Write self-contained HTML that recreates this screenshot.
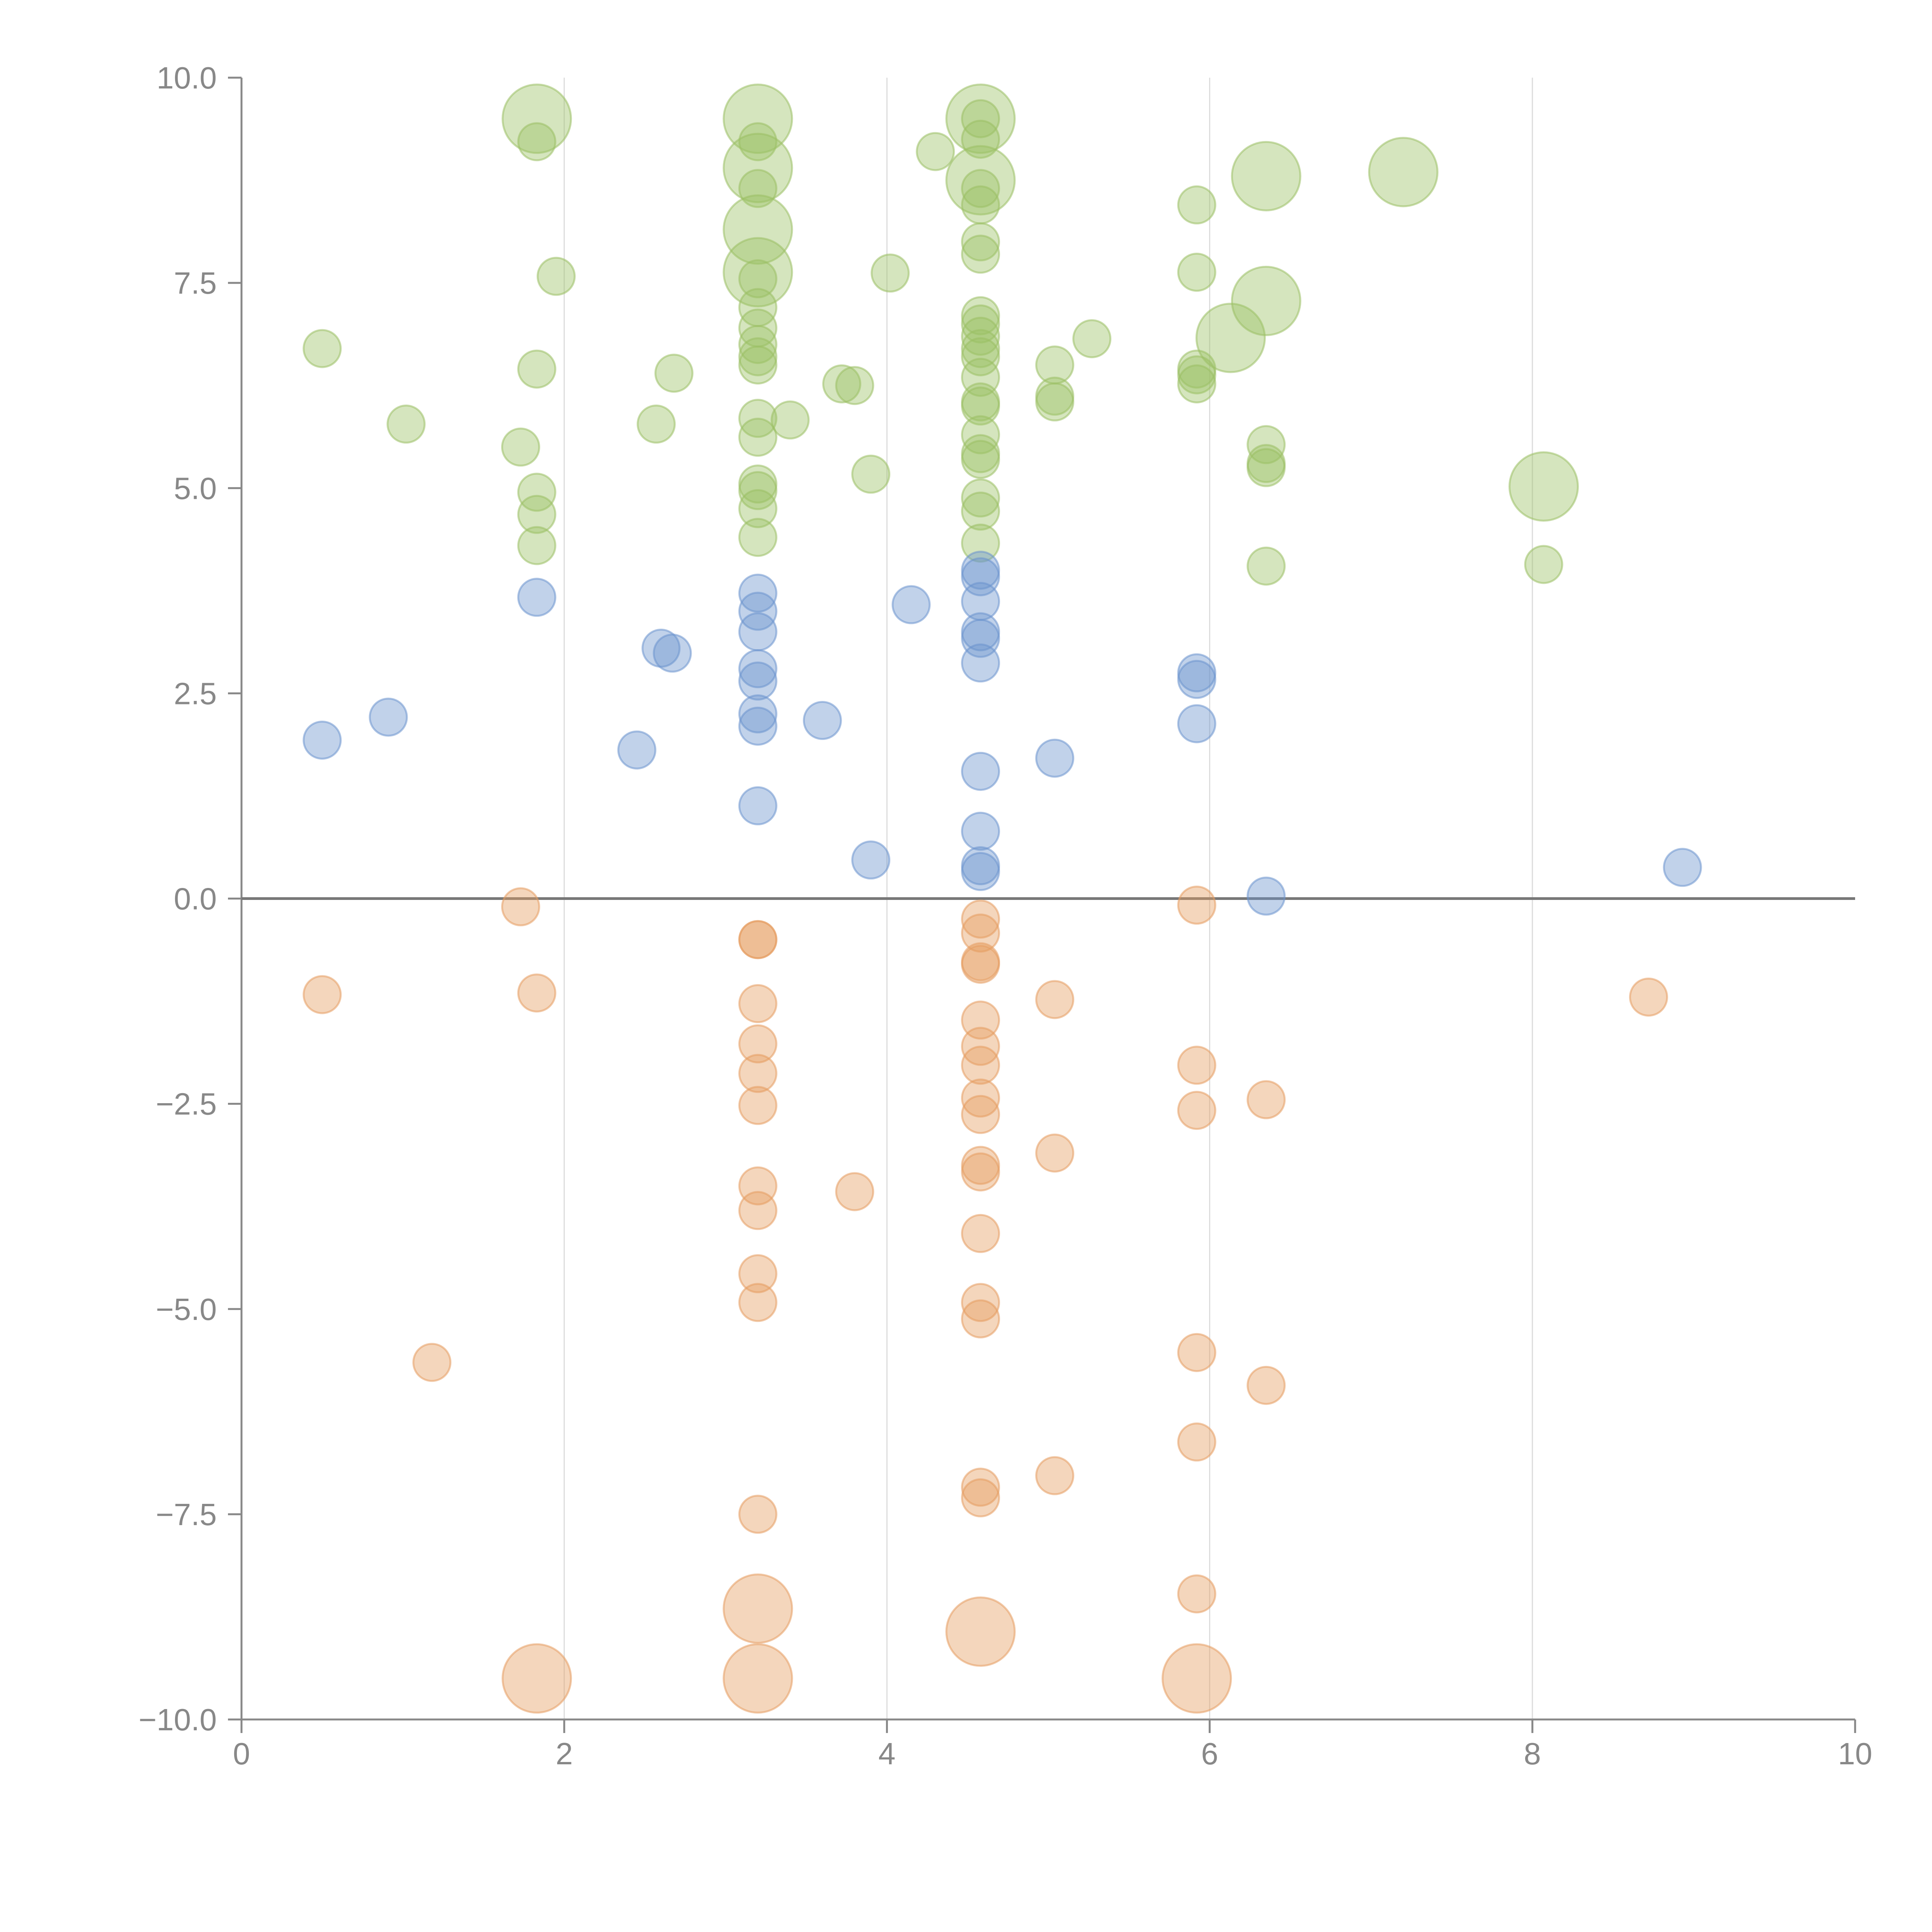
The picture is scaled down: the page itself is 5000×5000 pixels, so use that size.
<!DOCTYPE html>
<html><head><meta charset="utf-8"><style>
html,body{margin:0;padding:0;background:#fff;}
svg{display:block;font-family:"Liberation Sans",Arial,sans-serif;}
</style></head>
<body>
<svg id="chart" width="5000" height="5000" viewBox="0 0 5000 5000" xmlns="http://www.w3.org/2000/svg">
<g id="grid"></g>
<g id="axes"></g>
<g id="marks"></g>
</svg>
<script>
const xTicks=[0,2,4,6,8,10];
const xTickLabels=["0","2","4","6","8","10"];
const yTicks=[10,7.5,5,2.5,0,-2.5,-5,-7.5,-10];
const yTickLabels=["10.0","7.5","5.0","2.5","0.0","\u22122.5","\u22125.0","\u22127.5","\u221210.0"];

const greenX=[1.83,1.83,3.2,3.2,3.2,3.2,3.2,3.2,3.2,3.2,3.2,3.2,3.2,3.2,3.2,3.2,3.2,3.2,3.2,3.2,
4.58,4.58,4.58,4.58,4.58,4.58,4.58,4.58,4.58,4.58,4.58,4.58,4.58,4.58,4.58,4.58,4.58,4.58,4.58,4.58,4.58,4.58,
0.5,1.02,1.73,1.83,1.83,1.83,1.83,1.95,2.57,2.68,3.4,3.72,3.8,3.9,4.02,4.3,5.04,5.04,5.04,5.27,5.92,5.92,5.92,5.92,5.92,6.13,6.35,6.35,6.35,6.35,6.35,6.35,7.2,8.07,8.07];
const greenY=[9.5,9.22,9.5,9.22,8.9,8.65,8.15,7.63,7.55,7.2,6.95,6.75,6.6,6.5,5.85,5.62,5.05,4.97,4.75,4.4,
9.5,9.5,9.25,8.75,8.65,8.45,8.0,7.85,7.1,7.0,6.85,6.7,6.6,6.35,6.05,6.0,5.65,5.42,5.35,4.88,4.72,4.33,
6.7,5.78,5.5,6.45,4.95,4.68,4.3,7.58,5.78,6.4,5.83,6.27,6.25,5.17,7.62,9.1,6.5,6.12,6.05,6.82,8.45,7.63,6.45,6.38,6.27,6.83,8.8,7.28,5.53,5.3,5.25,4.05,8.85,5.02,4.07];
const greenSize=[3.4,1,3.4,1,3.4,1,3.4,3.4,1,1,1,1,1,1,1,1,1,1,1,1,
3.4,1,1,3.4,1,1,1,1,1,1,1,1,1,1,1,1,1,1,1,1,1,1,
1,1,1,1,1,1,1,1,1,1,1,1,1,1,1,1,1,1,1,1,1,1,1,1,1,3.4,3.4,3.4,1,1,1,1,3.4,3.4,1];

const blueX=[0.5,0.91,1.83,2.45,2.6,2.67,3.2,3.2,3.2,3.2,3.2,3.2,3.2,3.2,3.6,3.9,4.15,4.58,4.58,4.58,4.58,4.58,4.58,4.58,4.58,4.58,4.58,5.04,5.92,5.92,5.92,6.35,8.93];
const blueY=[1.93,2.21,3.67,1.81,3.05,2.99,3.72,3.5,3.25,2.8,2.65,2.25,2.1,1.13,2.17,0.47,3.58,4.0,3.92,3.62,3.25,3.17,2.87,1.55,0.82,0.4,0.33,1.71,2.75,2.67,2.13,0.03,0.38];
const blueSize=[1,1,1,1,1,1,1,1,1,1,1,1,1,1,1,1,1,1,1,1,1,1,1,1,1,1,1,1,1,1,1,1,1];

const orangeX=[0.5,1.18,1.73,1.83,1.83,3.2,3.2,3.2,3.2,3.2,3.2,3.2,3.2,3.2,3.2,3.2,3.2,3.2,3.8,
4.58,4.58,4.58,4.58,4.58,4.58,4.58,4.58,4.58,4.58,4.58,4.58,4.58,4.58,4.58,4.58,4.58,
5.04,5.04,5.04,5.92,5.92,5.92,5.92,5.92,5.92,5.92,6.35,6.35,8.72];
const orangeY=[-1.17,-5.65,-0.1,-1.15,-9.5,-0.5,-0.5,-1.28,-1.77,-2.13,-2.52,-3.5,-3.8,-4.57,-4.92,-7.5,-8.65,-9.5,-3.57,
-0.25,-0.42,-0.77,-0.8,-1.48,-1.8,-2.03,-2.43,-2.63,-3.25,-3.33,-4.08,-4.92,-5.12,-7.17,-7.3,-8.93,
-1.23,-3.1,-7.03,-0.08,-2.03,-2.58,-5.53,-6.62,-8.47,-9.5,-2.45,-5.93,-1.2];
const orangeSize=[1,1,1,1,3.4,1,1,1,1,1,1,1,1,1,1,1,3.4,3.4,1,
1,1,1,1,1,1,1,1,1,1,1,1,1,1,1,1,3.4,
1,1,1,1,1,1,1,1,1,3.4,1,1,1];

const NS='http://www.w3.org/2000/svg';
const X0=625,X1=4801,Y0=4450,Y1=201;
function xs(v){return X0+(v-0)/(10-0)*(X1-X0);}
function ys(v){return Y0-(v+10)/20*(Y0-Y1);}
function rs(s){return 48*Math.sqrt(s);}
function mk(tag,attrs,parent){const e=document.createElementNS(NS,tag);for(const k in attrs)e.setAttribute(k,attrs[k]);parent.appendChild(e);return e;}

const grid=document.getElementById('grid'),axes=document.getElementById('axes'),marks=document.getElementById('marks');
xTicks.forEach((t,i)=>{
  if(t>0&&t<10){const g=mk('line',{x1:xs(t),x2:xs(t),y1:Y1,y2:Y0,stroke:'#dcdcdc','stroke-width':3},grid);
  
  }
  const tk=mk('line',{x1:xs(t),x2:xs(t),y1:Y0,y2:Y0+35,stroke:'#888','stroke-width':5},axes);
  
  
  const tx=mk('text',{x:xs(t),y:4566,'text-anchor':'middle','font-size':80,fill:'#888'},axes);
  tx.textContent=xTickLabels[i];
  
  
});
yTicks.forEach((t,i)=>{
  const tk=mk('line',{x1:X0-35,x2:X0,y1:ys(t),y2:ys(t),stroke:'#888','stroke-width':5},axes);
  
  
  const tx=mk('text',{x:561,y:ys(t)+28,'text-anchor':'end','font-size':80,fill:'#888'},axes);
  tx.textContent=yTickLabels[i];
  
  
});
const ya=mk('line',{x1:X0,x2:X0,y1:Y1,y2:Y0+35,stroke:'#888','stroke-width':5},axes);


const xa=mk('line',{x1:X0-35,x2:X1,y1:Y0,y2:Y0,stroke:'#888','stroke-width':5},axes);


const zl=mk('line',{x1:X0,x2:X1,y1:ys(0),y2:ys(0),stroke:'#777','stroke-width':7},axes);



function series(xa,ya,sa,color,name){
  xa.forEach((x,i)=>{
    const c=mk('circle',{cx:xs(x),cy:ys(ya[i]),r:rs(sa[i]),fill:color,'fill-opacity':0.42,stroke:color,'stroke-opacity':0.55,'stroke-width':5},marks);
    
    
  });
}
series(greenX,greenY,greenSize,'#9bc065','green-bubble');
series(blueX,blueY,blueSize,'#6c93cd','blue-bubble');
series(orangeX,orangeY,orangeSize,'#e59d60','orange-bubble');
</script>
</body></html>
